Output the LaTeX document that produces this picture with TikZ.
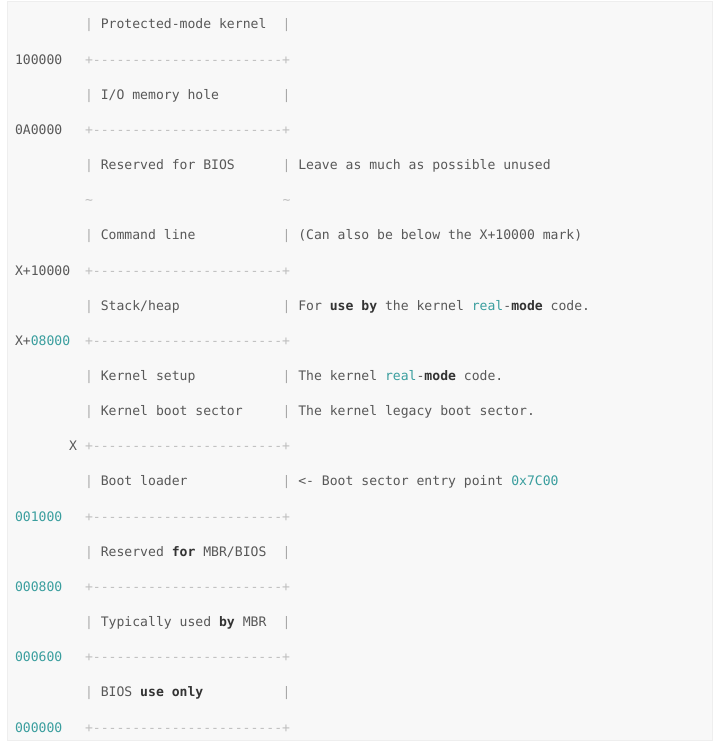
\documentclass[tikz,border=0pt]{standalone}
\usepackage{fontspec}
\setmonofont{DejaVu Sans Mono}
\definecolor{codebg}{HTML}{F8F8F8}
\definecolor{codeframe}{HTML}{EEEEEE}
\definecolor{codetext}{HTML}{585858}
\definecolor{kwtext}{HTML}{333333}
\definecolor{pipetext}{HTML}{A8A8A8}
\definecolor{ruletext}{HTML}{BEBEBE}
\definecolor{numteal}{HTML}{3A9E9E}
\newcommand\kw[1]{\textbf{\textcolor{kwtext}{#1}}}
\newcommand\hlnum[1]{\textcolor{numteal}{#1}}

\begin{document}
\begin{tikzpicture}[x=1bp,y=-1bp,
    txt/.style={anchor=base west,inner sep=0pt,outer sep=0pt,text=codetext,
      font=\ttfamily\fontsize{13.1bp}{16bp}\selectfont},
    pipe/.style={txt,text=pipetext},
    rule/.style={txt,text=ruletext}]

    \useasboundingbox (0,0) rectangle (713,741);
    \fill[codebg,draw=codeframe] (7,1) rectangle (712.5,740.5);

    % box walls and separators
    \foreach \b [count=\i] in {29,99.3,169.6,239.9,310.2,380.5,415.65,485.95,556.25,626.55,696.85}{
        \node[pipe] (lpipe\i) at (85,\b) {|};
        \node[pipe] (rpipe\i) at (282.5,\b) {|};
    }
    \foreach \b [count=\i] in {64.15,134.45,275.05,345.35,450.8,521.1,591.4,661.7,732}
        \node[rule] (sep\i) at (85,\b) {+------------------------+};
    \node[rule] (tildel) at (85,204.75) {\textasciitilde};
    \node[rule] (tilder) at (282.5,204.75) {\textasciitilde};

    % addresses
    \node[txt] (a100000) at (15,64.15) {100000};
    \node[txt] (a0A0000) at (15,134.45) {0A0000};
    \node[txt] (aX10000) at (15,275.05) {X+10000};
    \node[txt] (aX08000) at (15,345.35) {X+\hlnum{08000}};
    \node[txt] (aX) at (69.2,450.8) {X};
    \node[txt] (a001000) at (15,521.1) {\hlnum{001000}};
    \node[txt] (a000800) at (15,591.4) {\hlnum{000800}};
    \node[txt] (a000600) at (15,661.7) {\hlnum{000600}};
    \node[txt] (a000000) at (15,732) {\hlnum{000000}};

    % regions
    \node[txt] (protk) at (100.8,29) {Protected-mode kernel};
    \node[txt] (iohole) at (100.8,99.3) {I/O memory hole};
    \node[txt] (bios) at (100.8,169.6) {Reserved for BIOS};
    \node[txt] (cmdline) at (100.8,239.9) {Command line};
    \node[txt] (stack) at (100.8,310.2) {Stack/heap};
    \node[txt] (ksetup) at (100.8,380.5) {Kernel setup};
    \node[txt] (kboot) at (100.8,415.65) {Kernel boot sector};
    \node[txt] (loader) at (100.8,485.95) {Boot loader};
    \node[txt] (mbrbios) at (100.8,556.25) {Reserved \kw{for} MBR/BIOS};
    \node[txt] (mbr) at (100.8,626.55) {Typically used \kw{by} MBR};
    \node[txt] (biosonly) at (100.8,696.85) {BIOS \kw{use} \kw{only}};

    % notes
    \node[txt] (biosnote) at (298.3,169.6) {Leave as much as possible unused};
    \node[txt] (cmdnote) at (298.3,239.9) {(Can also be below the X+10000 mark)};
    \node[txt] (stacknote) at (298.3,310.2) {For \kw{use} \kw{by} the kernel \hlnum{real}-\kw{mode} code.};
    \node[txt] (setupnote) at (298.3,380.5) {The kernel \hlnum{real}-\kw{mode} code.};
    \node[txt] (bootnote) at (298.3,415.65) {The kernel legacy boot sector.};
    \node[txt] (loadnote) at (298.3,485.95) {<- Boot sector entry point \hlnum{0x7C00}};

\end{tikzpicture}
\end{document}
